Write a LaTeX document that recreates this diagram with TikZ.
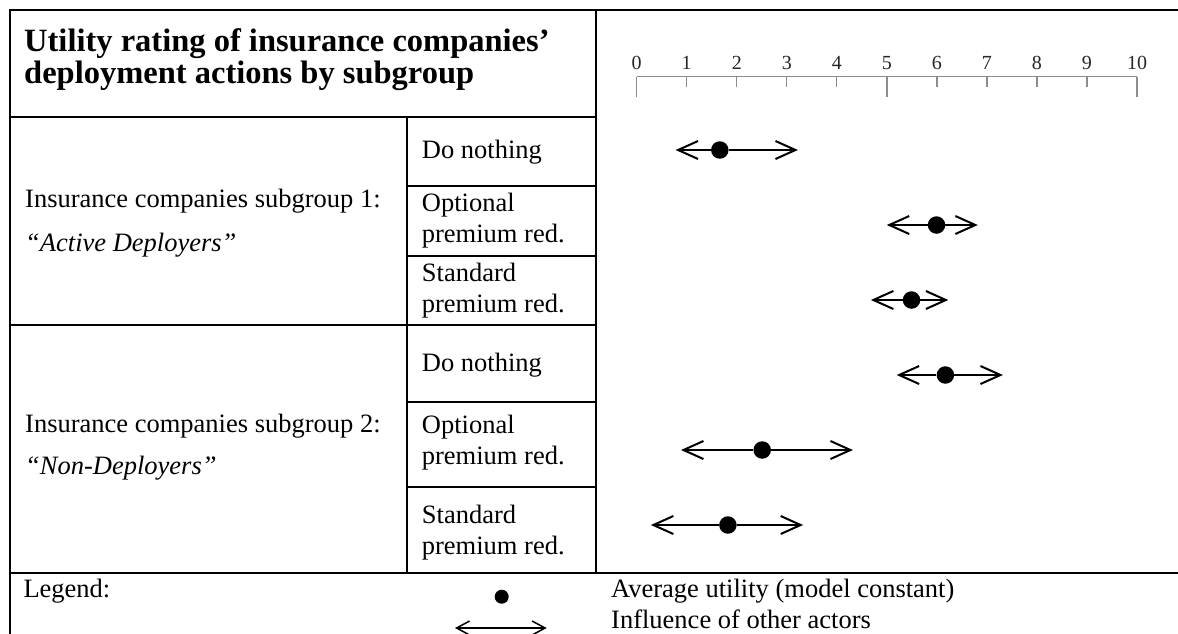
\documentclass[tikz,border=0pt]{standalone}
\usepackage{fontspec}
\setmainfont{Liberation Serif}
\usetikzlibrary{arrows.meta}

\begin{document}
\begin{tikzpicture}[x=1pt,y=-1pt,
  rule/.style={line width=2pt, line cap=rect},
  axisline/.style={line width=1.3pt, draw=black!45},
  body/.style={anchor=base west, inner sep=0pt, font=\fontsize{26.5}{31}\selectfont},
  title/.style={anchor=base west, inner sep=0pt, font=\fontsize{32.5}{32.5}\selectfont\bfseries},
  tick label/.style={anchor=base, inner sep=0pt, text=black!85, font=\fontsize{20}{20}\selectfont},
  dot/.style={circle, fill=black, inner sep=0pt, minimum size=17.5pt},
  small dot/.style={circle, fill=black, inner sep=0pt, minimum size=14pt},
  spread/.style={line width=2pt, -{Straight Barb[length=20pt,width=18pt]}},
  legend spread/.style={line width=1.5pt, {Straight Barb[length=13pt,width=14pt]}-{Straight Barb[length=13pt,width=14pt]}}
]
\useasboundingbox (0,0) rectangle (1178,633);

% table rules
\draw[rule] (10,633) -- (10,10) -- (1178,10);
\draw[rule] (10,116.7) -- (596,116.7);
\draw[rule] (596,10) -- (596,572.7);
\draw[rule] (406.7,116.7) -- (406.7,572.7);
\draw[rule] (406.7,185.7) -- (596,185.7);
\draw[rule] (406.7,255.7) -- (596,255.7);
\draw[rule] (10,325) -- (596,325);
\draw[rule] (406.7,401.7) -- (596,401.7);
\draw[rule] (406.7,487) -- (596,487);
\draw[rule] (10,572.7) -- (1178,572.7);

% header
\node[title] (t1) at (24,51) {Utility rating of insurance companies’};
\node[title] (t2) at (24,83) {deployment actions by subgroup};

% utility scale
\draw[axisline] (636.7,76.7) -- (1137,76.7);
\foreach \i in {0,...,10}{
  \pgfmathsetmacro{\xx}{636.7+50.03*\i}
  \ifnum\i=0 \def\tl{96.7}\else\ifnum\i=5 \def\tl{96.7}\else\ifnum\i=10 \def\tl{96.7}\else\def\tl{86.5}\fi\fi\fi
  \draw[axisline] (\xx,76.7) -- (\xx,\tl);
  \node[tick label] (n\i) at (\xx,69.5) {\i};
}

% subgroup labels
\node[body] (g1a) at (25,207) {Insurance companies subgroup 1:};
\node[body] (g1b) at (25,251) {\itshape “Active Deployers”};
\node[body] (g2a) at (25,432) {Insurance companies subgroup 2:};
\node[body] (g2b) at (25,474) {\itshape “Non-Deployers”};

% actions
\node[body] (a1) at (421.7,158) {Do nothing};
\node[body] (a2) at (421.7,211) {Optional};
\node[body] (a2b) at (421.7,242) {premium red.};
\node[body] (a3) at (421.7,281) {Standard};
\node[body] (a3b) at (421.7,312) {premium red.};
\node[body] (a4) at (421.7,371) {Do nothing};
\node[body] (a5) at (421.7,433) {Optional};
\node[body] (a5b) at (421.7,464) {premium red.};
\node[body] (a6) at (421.7,523) {Standard};
\node[body] (a6b) at (421.7,554) {premium red.};

% utility ranges: left end / average / right end / row
\foreach \k/\lx/\dx/\rx/\yy in {1/675.6/719.8/797.9/150, 2/886.8/936.5/977.8/225,
    3/870.9/911.5/948.3/300, 4/896.7/945.4/1002.9/375,
    5/681/762.2/852.9/450, 6/650.9/727.9/803.1/525}{
  \coordinate (l\k) at (\lx,\yy);
  \coordinate (r\k) at (\rx,\yy);
  \node[dot] (d\k) at (\dx,\yy) {};
  \draw[spread] (d\k) -- (l\k);
  \draw[spread] (d\k) -- (r\k);
}

% legend
\node[body] (lg) at (23.3,597) {Legend:};
\node[small dot] (lgd) at (501.7,596.7) {};
\coordinate (lgl) at (455,628);
\coordinate (lgr) at (546.7,628);
\draw[legend spread] (lgl) -- (lgr);
\node[body] (lg1) at (611,597) {Average utility (model constant)};
\node[body] (lg2) at (611,628) {Influence of other actors};
\end{tikzpicture}
\end{document}
